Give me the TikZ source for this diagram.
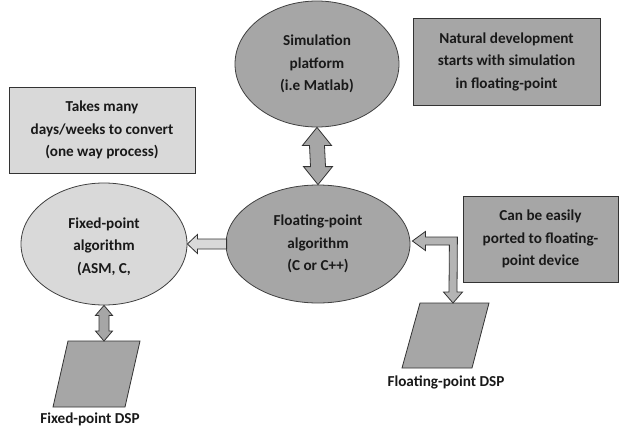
\documentclass[tikz,border=0pt]{standalone}
\usepackage{fontspec}
\setmainfont{Carlito}
\usetikzlibrary{calc,shapes.geometric}
\definecolor{darkfill}{HTML}{A6A6A6}
\definecolor{lightfill}{HTML}{D9D9D9}
\definecolor{arrowfill}{HTML}{B4B4B4}
\definecolor{edge}{HTML}{404040}
\tikzset{
  txt/.style={font=\fontsize{15.2}{22.5}\selectfont\bfseries, align=center, text=black!90},
  ell/.style={ellipse, draw=edge, line width=0.8pt, inner sep=0pt, txt},
  note/.style={rectangle, draw=black!80, line width=1pt, inner sep=0pt, txt},
  blockarrow/.style={draw=black!80, line width=0.8pt, line join=miter},
  dsp/.style={draw=black!80, line width=0.8pt, fill=darkfill}
}
\begin{document}
\begin{tikzpicture}[x=1pt,y=-1pt]
\useasboundingbox[fill=white] (0,0) rectangle (619,431);
% ellipses
\node[ell, fill=darkfill, minimum width=164pt, minimum height=126pt] (sim) at (317,64) {Simulation\\platform\\(i.e Matlab)};
\node[ell, fill=darkfill, minimum width=184pt, minimum height=118pt] (flt) at (318,244) {Floating-point\\algorithm\\(C or C++)};
\node[ell, fill=lightfill, minimum width=166pt, minimum height=122pt] (fix) at (104,244) {};
\node[txt, anchor=north] (fixtxt) at (104,214) {Fixed-point\\algorithm\\(ASM, C,};
% notes
\node[note, fill=darkfill, minimum width=187pt, minimum height=87pt] (nat) at (506.5,61.5) {Natural development\\starts with simulation\\in floating-point};
\node[note, fill=lightfill, minimum width=186pt, minimum height=86pt] (takes) at (102,130) {Takes many\\days/weeks to convert\\(one way process)};
\node[note, fill=darkfill, minimum width=155pt, minimum height=86pt] (can) at (540.5,239) {Can be easily\\ported to floating-\\point device};
% DSP parallelograms
\coordinate (fdsp) at (454.5,303);
\draw[dsp] (fdsp) ++(-34.5,0) -- ++(69,0) -- ++(-17,65) -- ++(-70,0) -- cycle;
\node[txt] (fdsplbl) at (446,382) {Floating-point DSP};
\coordinate (xdsp) at (104,341);
\draw[dsp] (xdsp) ++(-36,0) -- ++(72,0) -- ++(-15,66) -- ++(-72,0) -- cycle;
\node[txt] (xdsplbl) at (90,419) {Fixed-point DSP};
% vertical double arrow sim <-> flt
\coordinate (va) at (sim.south);
\coordinate (vb) at (flt.north);
\draw[blockarrow, fill=darkfill]
  (va) -- ($(va)+(14.5,18)$) -- ($(va)+(7.5,18)$) -- ($(vb)+(7.5,-18)$) -- ($(vb)+(14.5,-18)$)
  -- (vb) -- ($(vb)+(-14.5,-18)$) -- ($(vb)+(-7.5,-18)$) -- ($(va)+(-7.5,18)$) -- ($(va)+(-14.5,18)$) -- cycle;
% fixed double arrow fix <-> dsp
\coordinate (xa) at (fix.south);
\draw[blockarrow, fill=darkfill]
  (xa) -- ($(xa)+(8.5,10)$) -- ($(xa)+(5,10)$) -- ($(xdsp)+(5,-10)$) -- ($(xdsp)+(8.5,-10)$)
  -- (xdsp) -- ($(xdsp)+(-8.5,-10)$) -- ($(xdsp)+(-5,-10)$) -- ($(xa)+(-5,10)$) -- ($(xa)+(-8.5,10)$) -- cycle;
% left arrow flt -> fix
\coordinate (la) at (flt.west);
\coordinate (lb) at (fix.east);
\draw[blockarrow, fill=lightfill]
  (lb) -- ($(lb)+(10,-9.5)$) -- ($(lb)+(10,-5)$) -- ($(la)+(1,-5)$) -- ($(la)+(1,5)$)
  -- ($(lb)+(10,5)$) -- ($(lb)+(10,9.5)$) -- cycle;
% L-shaped arrow between flt and floating-point DSP
\coordinate (ra) at ($(flt.east)+(2,-3)$);
\draw[blockarrow, fill=arrowfill]
  (ra) -- ($(ra)+(13,-9.5)$) -- ($(ra)+(13,-4)$) -- ($(ra)+(45,-4)$) -- ($(fdsp)+(2.5,-11)$)
  -- ($(fdsp)+(8,-11)$) -- ($(fdsp)+(-1.5,0)$) -- ($(fdsp)+(-11,-11)$) -- ($(fdsp)+(-5.5,-11)$)
  -- ($(ra)+(37,4)$) -- ($(ra)+(13,4)$) -- ($(ra)+(13,9.5)$) -- cycle;
\end{tikzpicture}
\end{document}
